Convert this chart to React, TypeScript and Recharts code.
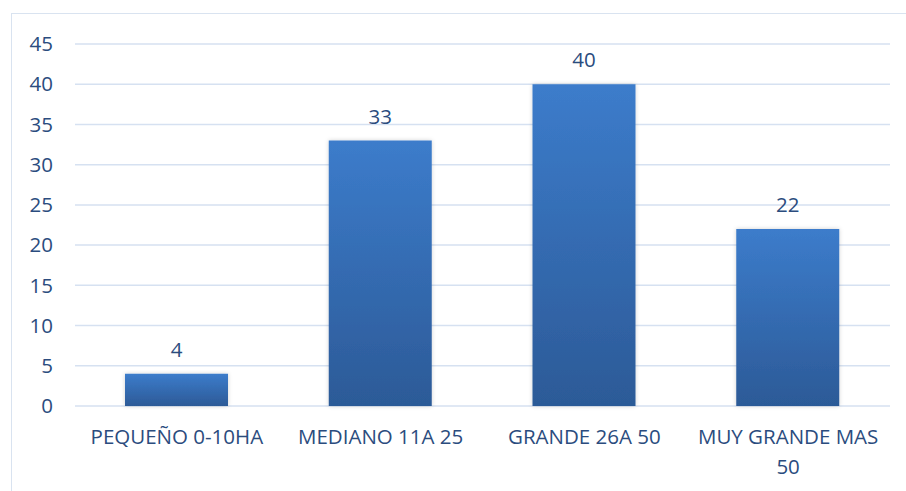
import React from "react";
import { BarChart, Bar, XAxis, YAxis, CartesianGrid, LabelList } from "recharts";

const categories = ["PEQUEÑO 0-10HA", "MEDIANO 11A 25", "GRANDE 26A 50", "MUY GRANDE MAS 50"];
const categoryLines = [["PEQUEÑO 0-10HA"], ["MEDIANO 11A 25"], ["GRANDE 26A 50"], ["MUY GRANDE MAS", "50"]];
const values = [4, 33, 40, 22];
const yTicks = [0, 5, 10, 15, 20, 25, 30, 35, 40, 45];

const data = categories.map((c, i) => ({ name: c, value: values[i] }));

const TEXT = "#2B4C7E";
const FONT = "'Open Sans', sans-serif";
const FS = 20.5;

const XTick = (props: any) => {
  const { x, y, payload } = props;
  const idx = categories.indexOf(payload.value);
  const lines = idx >= 0 ? categoryLines[idx] : [String(payload.value)];
  return (
    <text x={x} y={y + 30} textAnchor="middle" fill={TEXT} fontSize={FS} fontFamily={FONT}>
      {lines.map((l, i) => (
        <tspan key={i} x={x} dy={i === 0 ? 0 : 30}>
          {l}
        </tspan>
      ))}
    </text>
  );
};

export default function App() {
  return (
    <div style={{ position: "absolute", left: 0, top: 0, width: 906, height: 491, overflow: "hidden", background: "#fff" }}>
      <div
        style={{
          position: "absolute",
          left: 11,
          top: 13,
          width: 1000,
          height: 1000,
          border: "1.5px solid #D9E3F0",
          boxSizing: "border-box",
        }}
      />
      <div style={{ position: "absolute", left: 0, top: 0 }}>
        <BarChart
          width={906}
          height={491}
          data={data}
          margin={{ top: 44, right: 16, left: 15, bottom: 25 }}
          barSize={103}
        >
          <defs>
            <linearGradient id="barGrad" x1="0" y1="0" x2="0" y2="1">
              <stop offset="0%" stopColor="#3C7CCB" />
              <stop offset="100%" stopColor="#2C5A97" />
            </linearGradient>
            <filter id="shadow" x="-10%" y="-10%" width="120%" height="120%">
              <feDropShadow dx="0" dy="0" stdDeviation="2" floodColor="#000" floodOpacity="0.18" />
            </filter>
          </defs>
          <CartesianGrid vertical={false} stroke="#D6E1F1" strokeWidth={1.5} />
          <XAxis
            dataKey="name"
            axisLine={false}
            tickLine={false}
            tick={<XTick />}
            height={60}
            interval={0}
          />
          <YAxis
            domain={[0, 45]}
            ticks={yTicks}
            axisLine={false}
            tickLine={false}
            width={60}
            tickMargin={16}
            tick={{ fill: TEXT, fontSize: FS, fontFamily: FONT }}
          />
          <Bar dataKey="value" fill="url(#barGrad)" isAnimationActive={false} filter="url(#shadow)">
            <LabelList
              dataKey="value"
              position="top"
              offset={17}
              fill={TEXT}
              fontSize={FS}
              fontFamily={FONT}
            />
          </Bar>
        </BarChart>
      </div>
    </div>
  );
}
